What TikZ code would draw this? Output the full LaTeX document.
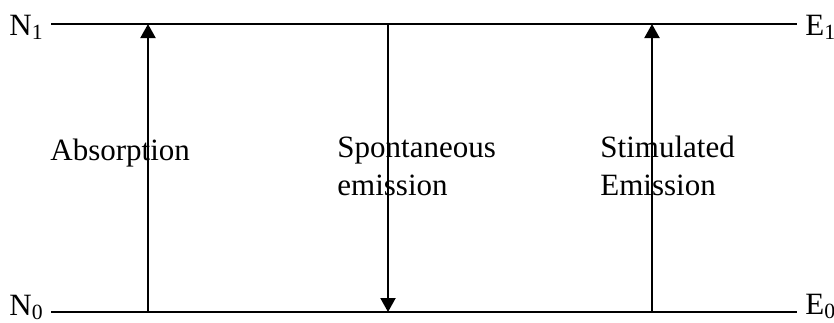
\documentclass[tikz,border=0pt]{standalone}
\usepackage{fontspec}
\setmainfont{Liberation Serif}
\usepackage{tikz}
\usetikzlibrary{positioning,arrows.meta,calc}

\begin{document}
\begin{tikzpicture}[
        x=0.5pt, y=-0.5pt,
        every node/.style={font=\fontsize{15.5}{18.6}\selectfont},
        lvl/.style={line width=1pt},
        tag/.style={inner sep=0pt},
        lbl/.style={inner sep=0pt, align=left, anchor=base west},
        arr/.style={line width=1pt, -{Triangle[width=7.5pt,length=7pt]}}
      ]
      \useasboundingbox (0,0) rectangle (834,322);

      % Upper level: N_1 ---- E_1
      \coordinate (up0) at (51,24);
      \coordinate (up1) at (797,24);
      \node[tag, anchor=base east] (n1) at (44,35) {N\textsubscript{1}};
      \node[tag, anchor=base west] (e1) at (805,35) {E\textsubscript{1}};
      \draw[lvl] (up0) -- (up1);

      % Lower level: N_0 ---- E_0
      \coordinate (lo0) at (51,312);
      \coordinate (lo1) at (797,312);
      \node[tag, anchor=base east] (n0) at (44,315) {N\textsubscript{0}};
      \node[tag, anchor=base west] (e0) at (805,314) {E\textsubscript{0}};
      \draw[lvl] (lo0) -- (lo1);

      % Transitions
      \coordinate (absb) at (148,312);
      \coordinate (abst) at (148,24);
      \coordinate (spot) at (388,24);
      \coordinate (spob) at (388,312);
      \coordinate (stib) at (652,312);
      \coordinate (stit) at (652,24);
      \draw[arr] (absb) -- (abst);
      \draw[arr] (spot) -- (spob);
      \draw[arr] (stib) -- (stit);

      % base of a two-line label is its last line
      \node[lbl] (abs) at (50,160)  {Absorption};
      \node[lbl] (spo) at (337,195) {Spontaneous\\emission};
      \node[lbl] (sti) at (600,195) {Stimulated\\Emission};

    \end{tikzpicture}
\end{document}
